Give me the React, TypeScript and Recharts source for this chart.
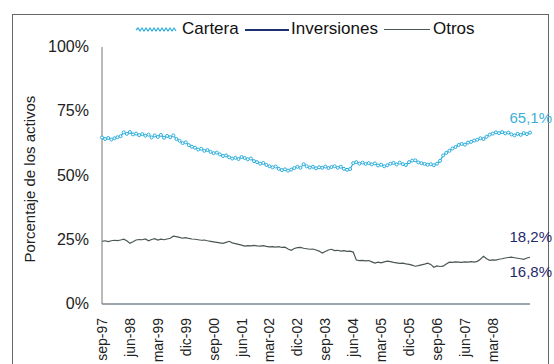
import { LineChart, Line, XAxis, YAxis } from 'recharts'

const MONTHS = ['ene', 'feb', 'mar', 'abr', 'may', 'jun', 'jul', 'ago', 'sep', 'oct', 'nov', 'dic']
const TICKS = ['sep-97', 'jun-98', 'mar-99', 'dic-99', 'sep-00', 'jun-01', 'mar-02', 'dic-02', 'sep-03', 'jun-04', 'mar-05', 'dic-05', 'sep-06', 'jun-07', 'mar-08']
const Y_TICKS = [0, 25, 50, 75, 100]

const cartera = [
  64.8, 64.2, 64.6, 64.0, 64.5, 64.9, 65.3, 66.8, 66.2, 66.9,
  66.0, 66.3, 65.7, 66.1, 65.5, 65.9, 64.8, 65.6, 65.0, 65.8,
  64.7, 65.4, 64.9, 65.6, 64.2, 63.5, 62.6, 62.9, 61.8, 61.2,
  60.8, 60.1, 60.4, 59.6, 59.9, 59.2, 58.7, 58.9, 58.2, 57.6,
  57.8, 57.1, 56.6, 56.9, 56.4, 57.2, 56.8, 56.3, 56.6, 55.6,
  55.2, 54.6, 54.9, 54.1, 53.6, 53.2, 53.5, 52.6, 52.1, 52.4,
  51.9, 52.3, 52.9, 53.4, 53.0, 54.4, 53.6, 53.1, 53.4, 52.8,
  53.2, 53.0, 53.5, 52.9, 53.3, 53.6, 53.0, 53.4, 52.6, 52.2,
  52.5, 54.8, 55.2, 54.6, 55.0, 54.5, 54.8, 54.3, 54.7, 53.9,
  54.2, 53.6, 54.0, 54.6, 54.9, 54.3, 55.0, 54.4, 54.1, 55.2,
  55.8, 55.9, 55.1, 54.8, 54.5, 54.2, 54.4, 54.0, 54.6, 55.7,
  57.8, 58.8, 59.6, 60.5, 61.1, 61.9, 62.3, 62.0, 62.8, 63.1,
  63.6, 63.9, 64.5, 64.2, 65.1, 65.9, 66.3, 66.8, 66.5, 66.9,
  66.4, 66.7, 66.0, 65.6, 66.2, 65.8, 66.5, 66.1, 66.7,
]

const otros = [
  24.4, 24.6, 24.3, 24.6, 24.8, 24.7, 24.9, 25.2, 24.6, 23.6,
  24.2, 24.9, 25.1, 25.0, 25.3, 24.6, 25.1, 25.4, 24.9, 25.2,
  25.0, 25.3, 25.6, 26.4, 26.2, 25.9, 25.6, 25.8, 25.5, 25.3,
  25.2, 25.0, 24.8, 24.9, 24.6, 24.4, 24.2, 24.0, 23.8, 23.6,
  24.0, 24.4, 23.8, 23.5, 23.2, 22.9, 22.5, 22.7, 22.6, 22.8,
  22.6, 22.5, 22.7, 22.4, 22.2, 22.3, 22.1, 22.3, 22.0, 22.1,
  21.4, 20.9, 21.6, 21.9, 22.0, 21.7, 21.5, 21.3, 21.4, 21.0,
  20.6, 19.8, 20.4, 21.0, 21.3, 20.8, 20.9, 20.6, 20.8, 20.5,
  20.6, 20.2, 17.1, 16.9, 17.0, 16.8, 16.9, 16.4, 15.9, 16.3,
  16.0, 16.4, 16.7, 16.5, 16.2, 16.0, 15.8, 15.9, 15.6, 15.4,
  15.1, 14.7, 14.9, 15.2, 15.5, 15.9, 15.4, 14.3, 14.8, 14.6,
  14.7, 15.6, 16.3, 16.2, 16.4, 16.3, 16.2, 16.4, 16.3, 16.5,
  16.3, 16.6, 17.4, 18.6, 17.6, 17.0, 17.2, 17.1, 17.4, 17.6,
  17.9, 18.1, 18.2, 18.0, 17.8, 17.6, 17.4, 17.9, 18.2,
]

// monthly categories starting sep-97
const data = cartera.map((c, i) => {
  const m = (8 + i) % 12
  const y = (97 + Math.floor((8 + i) / 12)) % 100
  return { mes: `${MONTHS[m]}-${String(y).padStart(2, '0')}`, cartera: c, otros: otros[i] }
})

const FONT = 'Arial, "Liberation Sans", sans-serif'

function XTick({ x, y, payload }: any) {
  if (!TICKS.includes(payload.value)) return null
  return (
    <g transform={`translate(${x},${y})`}>
      <text transform="rotate(-90)" x={-6} y={5} textAnchor="end" fontSize={14} fill="#222" fontFamily={FONT}>
        {payload.value}
      </text>
    </g>
  )
}

function YTick({ y, payload }: any) {
  return (
    <text x={89} y={y + 5} textAnchor="end" fontSize={16} fill="#222" fontFamily={FONT}>
      {payload.value}%
    </text>
  )
}

export default function App() {
  return (
    <div style={{ position: 'absolute', left: 0, top: 0, width: 554, height: 364, background: '#fff', overflow: 'hidden', fontFamily: FONT }}>
      <div style={{ position: 'absolute', left: 12, top: 14, width: 535, height: 380, border: '1.5px solid #666' }} />
      <LineChart width={554} height={364} data={data} margin={{ top: 47, right: 24, bottom: 0, left: 8 }}>
        <XAxis dataKey="mes" interval={0} tick={<XTick />} tickLine={false} height={60} stroke="#3d4a58" />
        <YAxis domain={[0, 100]} ticks={Y_TICKS} width={94} tick={<YTick />} tickLine={false} stroke="#777" />
        <Line dataKey="otros" stroke="#4b5850" strokeWidth={1.2} dot={false} isAnimationActive={false} />
        <Line
          dataKey="cartera"
          stroke="#2aaedd"
          strokeWidth={1.2}
          dot={{ r: 1.5, fill: '#fff', stroke: '#2aaedd', strokeWidth: 1 }}
          isAnimationActive={false}
        />
      </LineChart>

      <svg style={{ position: 'absolute', left: 135, top: 25 }} width={44} height={10}>
        <path d="M1 5 l2 -2 l2 3 l2 -3 l2 3 l2 -3 l2 3 l2 -3 l2 3 l2 -3 l2 3 l2 -3 l2 3 l2 -3 l2 3 l2 -3 l2 3 l2 -3 l2 3 l2 -3 l2 3" fill="none" stroke="#2aaedd" strokeWidth={1.2} />
      </svg>
      <div style={{ position: 'absolute', left: 182, top: 19, fontSize: 17, color: '#111' }}>Cartera</div>
      <div style={{ position: 'absolute', left: 245, top: 29, width: 44, height: 2, background: '#1c2f6e' }} />
      <div style={{ position: 'absolute', left: 291, top: 19, fontSize: 17, color: '#111' }}>Inversiones</div>
      <div style={{ position: 'absolute', left: 384, top: 29, width: 46, height: 1, background: '#4b5850' }} />
      <div style={{ position: 'absolute', left: 433, top: 19, fontSize: 17, color: '#111' }}>Otros</div>

      <div style={{ position: 'absolute', left: 30, top: 179, width: 200, marginLeft: -100, textAlign: 'center', transform: 'rotate(-90deg)', fontSize: 15, color: '#222', lineHeight: '18px', marginTop: -9, transformOrigin: '100px 9px' }}>
        Porcentaje de los activos
      </div>

      <div style={{ position: 'absolute', right: 2, top: 109, fontSize: 15, color: '#3cb0d8' }}>65,1%</div>
      <div style={{ position: 'absolute', right: 2, top: 228, fontSize: 15, color: '#1f2a6b' }}>18,2%</div>
      <div style={{ position: 'absolute', right: 2, top: 263, fontSize: 15, color: '#1f2a6b' }}>16,8%</div>
    </div>
  )
}
